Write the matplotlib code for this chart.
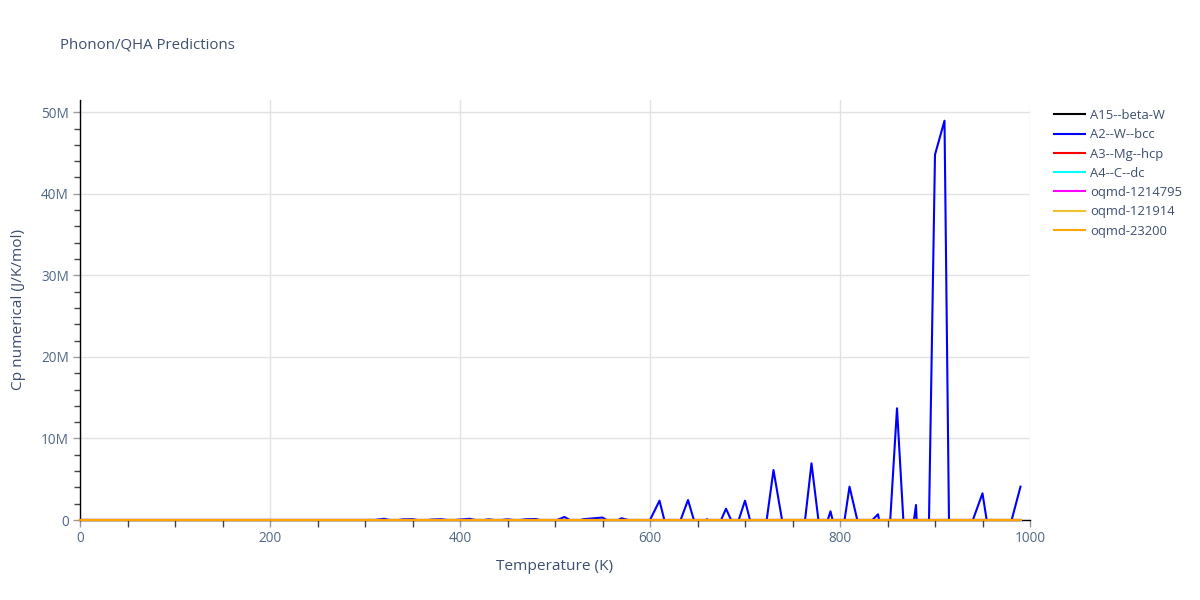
import matplotlib
matplotlib.use("Agg")
import matplotlib.pyplot as plt
from matplotlib.ticker import MultipleLocator, FuncFormatter
from matplotlib.lines import Line2D

# ---------------- data ----------------
temps_bcc = list(range(0, 1000, 10))  # K
# A2--W--bcc Cp numerical, in millions of J/K/mol
cp_bcc_M = (
    [0.0] * 32 +
    [0.15, -0.1, 0.08, 0.1, -0.1, 0.05, 0.1, -0.05,          # 320-390
     0.05, 0.15, -0.1, 0.08, -0.05, 0.08, -0.05, 0.1, 0.12, -0.2,  # 400-490
     -0.1, 0.37, -0.3, 0.1, 0.2, 0.3, -0.4, 0.22, -0.1, -0.3,      # 500-590
     0.0, 2.37, -2.3, -0.7, 2.45, -1.5, 0.1, -1.3, 1.39, -1.2,     # 600-690
     2.37, -2.1, -2.4, 6.13, -0.68, -1.5, -3.3, 6.95, -2.6, 1.06,  # 700-790
     -3.8, 4.09, -0.9, -0.47, 0.7, -5.5, 13.7, -6.8, 1.84, -26.0,  # 800-890
     44.8, 48.96, -55.0, -5.0, 0.05, 3.27, -4.2, -3.0, -0.3, 4.09] # 900-990
)

temps_other = [0, 100, 200, 300, 400, 500, 600, 700, 800, 900, 990]
cp_a15 = [0, 16, 22, 24, 24.6, 25.0, 25.3, 25.6, 25.9, 26.2, 26.4]
cp_a3 = [0, 15, 21, 23.5, 24.4, 24.9, 25.2, 25.5, 25.8, 26.1, 26.3]
cp_a4 = [0, 10, 18, 22, 23.6, 24.4, 24.9, 25.3, 25.6, 25.9, 26.1]
cp_oqmd_1214795 = [0, 17, 22.5, 24.2, 24.8, 25.1, 25.4, 25.7, 26.0, 26.3, 26.5]
cp_oqmd_121914 = [0, 16.5, 22.2, 24.1, 24.7, 25.0, 25.3, 25.6, 25.9, 26.2, 26.4]
cp_oqmd_23200 = [0, 16.2, 22.1, 24.0, 24.6, 25.0, 25.3, 25.6, 25.9, 26.2, 26.4]

series_names = ["A15--beta-W", "A2--W--bcc", "A3--Mg--hcp", "A4--C--dc",
                "oqmd-1214795", "oqmd-121914", "oqmd-23200"]
series_colors = ["black", "blue", "red", "cyan", "magenta", "#f0c030", "orange"]

x_ticks = [0, 200, 400, 600, 800, 1000]
y_ticks_M = [0, 10, 20, 30, 40, 50]

# ---------------- style ----------------
plt.rcParams['font.family'] = ['Open Sans', 'DejaVu Sans']
text_col = '#3d4f6e'
tick_col = '#506784'
grid_col = '#e2e2e2'

fig = plt.figure(figsize=(12, 6), dpi=100)
ax = fig.add_axes([80/1200, 80/600, 950/1200, 420/600])

lw = 1.5
cp_bcc = [v * 1e6 for v in cp_bcc_M]
others = [cp_a15, None, cp_a3, cp_a4, cp_oqmd_1214795, cp_oqmd_121914, cp_oqmd_23200]
for i, (name, col) in enumerate(zip(series_names, series_colors)):
    if name == "A2--W--bcc":
        ax.plot(temps_bcc, cp_bcc, color=col, lw=lw, zorder=3 + i)
    else:
        ax.plot(temps_other, others[i], color=col, lw=lw, zorder=3 + i, clip_on=False)

ax.set_xlim(0, 1000)
ax.set_ylim(0, 51.5e6)

ax.set_xticks(x_ticks)
ax.set_yticks([v * 1e6 for v in y_ticks_M])
ax.yaxis.set_major_formatter(FuncFormatter(lambda v, p: "0" if v == 0 else f"{int(round(v/1e6))}M"))
ax.xaxis.set_major_formatter(FuncFormatter(lambda v, p: f"{int(v)}"))

# minor ticks
ax.xaxis.set_minor_locator(MultipleLocator(50))
ax.yaxis.set_minor_locator(MultipleLocator(2e6))

ax.tick_params(axis='both', which='major', direction='out', length=5, width=1,
               color='#9a9a9a', labelcolor=tick_col, labelsize=9.8, pad=3)
ax.tick_params(axis='both', which='minor', direction='out', length=5, width=1, color='#444444')
ax.tick_params(axis='y', which='minor', length=4)

fig.canvas.draw()
for t in ax.xaxis.get_minor_ticks():
    loc = t.get_loc()
    if abs(loc % 100) < 1e-6:
        t.tick1line.set_color('#9a9a9a')

ax.grid(True, which='major', color=grid_col, lw=1, zorder=0)
ax.set_axisbelow(True)

for s in ['top', 'right']:
    ax.spines[s].set_visible(False)
for s in ['left', 'bottom']:
    ax.spines[s].set_color('black')
    ax.spines[s].set_linewidth(1)
    ax.spines[s].set_zorder(2)

ax.set_xlabel("Temperature (K)", color=text_col, fontsize=11.1, labelpad=9)
ax.set_ylabel("Cp numerical (J/K/mol)", color=text_col, fontsize=11.1, labelpad=11)

fig.text(60/1200, 1 - 45/600, "Phonon/QHA Predictions", color=text_col,
         fontsize=10.8, ha='left', va='center')

handles = [Line2D([0], [0], color=c, lw=lw) for c in series_colors]
leg = fig.legend(handles, series_names, loc='upper left',
                 bbox_to_anchor=(1054/1200, 1 - 109/600), frameon=False,
                 fontsize=9.4, handlelength=2.35, handletextpad=0.4,
                 labelspacing=0.48, borderaxespad=0, borderpad=0)
for t in leg.get_texts():
    t.set_color(text_col)

fig.savefig("out.png", dpi=100)
